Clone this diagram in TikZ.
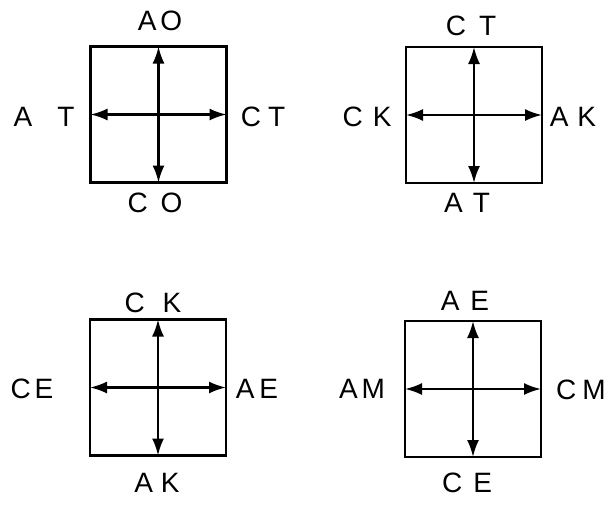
\documentclass[tikz,border=0pt]{standalone}
\usepackage{fontspec}
\setmainfont{Liberation Sans}
\usetikzlibrary{arrows.meta}
\tikzset{
  sq/.style={draw, line width=2.8pt, outer sep=0pt, inner sep=0pt,
             minimum width=136pt, minimum height=136pt},
  axis/.style={line width=2.2pt, -{Latex[length=17pt,width=12pt]}},
  lbl/.style={inner sep=0pt, font=\fontsize{28}{28}\selectfont}
}
\newcommand{\gp}[1]{\hspace{#1pt}}
\begin{document}
\begin{tikzpicture}[x=1pt,y=-1pt]
  \useasboundingbox (0,0) rectangle (607,504);

  % four compass squares
  \node[sq] (b1) at (158.5,114.5) {};
  \node[sq] (b2) at (474,115) {};
  \node[sq] (b3) at (158,387.5) {};
  \node[sq] (b4) at (473,389) {};

  % double-headed axes inside each square
  \foreach \b in {b1,b2,b3,b4} {
    \draw[axis] (\b.center) -- (\b.north);
    \draw[axis] (\b.center) -- (\b.south);
    \draw[axis] (\b.center) -- (\b.west);
    \draw[axis] (\b.center) -- (\b.east);
  }

  % labels, square 1
  \node[lbl] (t1) at (160,21)  {A\gp{4}O};
  \node[lbl] (l1) at (44,117)  {A\gp{25}T};
  \node[lbl] (r1) at (263,117) {C\gp{7}T};
  \node[lbl] (d1) at (155,203) {C\gp{13}O};

  % labels, square 2
  \node[lbl] (t2) at (471,26)  {C\gp{13}T};
  \node[lbl] (l2) at (367,117) {C\gp{10}K};
  \node[lbl] (r2) at (573,117) {A\gp{9}K};
  \node[lbl] (d2) at (467,203) {A\gp{10}T};

  % labels, square 3
  \node[lbl] (t3) at (153,303) {C\gp{18}K};
  \node[lbl] (l3) at (32,389)  {C\gp{4}E};
  \node[lbl] (r3) at (257,389) {A\gp{5}E};
  \node[lbl] (d3) at (157,483) {A\gp{8}K};

  % labels, square 4
  \node[lbl] (t4) at (465,301) {A\gp{11}E};
  \node[lbl] (l4) at (362,389) {A\gp{4}M};
  \node[lbl] (r4) at (581,390) {C\gp{6}M};
  \node[lbl] (d4) at (467,483) {C\gp{11}E};
\end{tikzpicture}
\end{document}
